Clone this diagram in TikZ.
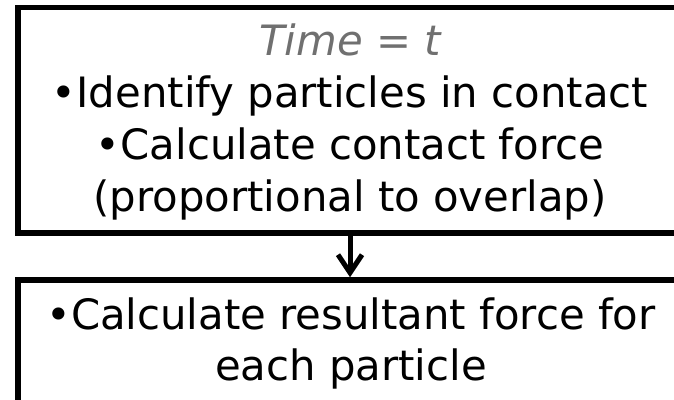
\documentclass[tikz,border=0pt]{standalone}
\usepackage{fontspec}
\setmainfont{DejaVu Sans}
\usetikzlibrary{arrows.meta}
\definecolor{timegray}{HTML}{707070}
\begin{document}
\begin{tikzpicture}[x=1pt,y=1pt,
  box/.style={draw=black, line width=5.5pt, rectangle, inner sep=0pt},
  txt/.style={font=\fontsize{41.8}{52}\selectfont, anchor=base, inner sep=0pt},
  flow/.style={line width=5pt, -{Straight Barb[length=18pt,width=24pt]}}]
\useasboundingbox (0,0) rectangle (674,399);
\clip (0,0) rectangle (674,399);
\fill[white] (0,0) rectangle (674,399);
\node[box, minimum width=664pt, minimum height=225.5pt] (top) at (350,278.75) {};
\node[box, minimum width=664pt, minimum height=160pt] (bot) at (350,39) {};
\node[txt, text=timegray] (t0) at (350,343) {\itshape Time = t};
\node[txt] (t1) at (350,291) {•Identify particles in contact};
\node[txt] (t2) at (350,239) {•Calculate contact force};
\node[txt] (t3) at (350,187) {(proportional to overlap)};
\node[txt] (b1) at (351,70) {•Calculate resultant force for};
\node[txt] (b2) at (351,19) {each particle};
\draw[flow] (top.south) -- (bot.north);
\end{tikzpicture}
\end{document}
